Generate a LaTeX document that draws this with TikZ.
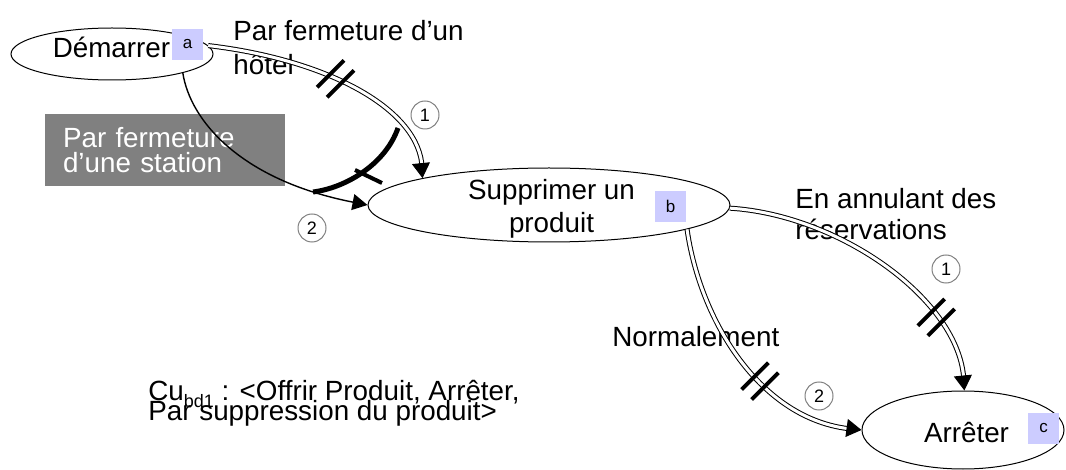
\documentclass[tikz,border=0pt]{standalone}
\usepackage{fontspec}
\setmainfont{Liberation Sans}
\usepackage{xcolor}
\usetikzlibrary{shapes.geometric,arrows.meta}
\definecolor{tagfill}{HTML}{CCCCFF}
\definecolor{boxgray}{HTML}{808080}

% two short bars across a flow, always at 45 degrees
\newcommand{\hatchmark}[1]{%
    \draw[bar] ([shift={(-9.2pt,-4.2pt)}]#1) -- ([shift={(4.2pt,9.2pt)}]#1)
               ([shift={(-4.2pt,-9.2pt)}]#1) -- ([shift={(9.2pt,4.2pt)}]#1);}

\begin{document}
\begin{tikzpicture}[
        x=0.5pt, y=-0.5pt,
        task/.style={
            draw,
            ellipse,
            line width=0.5pt,
            inner sep=0pt
        },
        tag/.style={
            fill=tagfill,
            minimum size=15.5pt,
            inner sep=0pt,
            font=\fontsize{8.5}{10}\selectfont
        },
        txt/.style={
            inner sep=0pt,
            align=left,
            font=\fontsize{13.9}{16.5}\selectfont
        },
        num/.style={
            draw=boxgray,
            circle,
            minimum size=14pt,
            inner sep=0pt,
            line width=0.5pt,
            font=\fontsize{9}{10}\selectfont
        },
        seq/.style={
            draw,
            line width=0.5pt,
            double,
            double distance=1.5pt,
            shorten >=5pt
        },
        tip/.style={
            draw,
            line width=0.5pt,
            -{Triangle[length=7.5pt,width=9pt]}
        },
        alt/.style={
            draw,
            line width=0.7pt,
            -{Triangle[length=7.5pt,width=8pt]}
        },
        bar/.style={line width=2pt}
    ]

    \useasboundingbox (0,0) rectangle (1066,470);

    % tasks
    \node[task, minimum width=101pt, minimum height=26pt] (dem) at (112,54) {};
    \node[txt, anchor=base] (demT) at (111.5,58) {Démarrer};
    \node[tag] (tagA) at (187.5,44.5) {a};

    \node[task, minimum width=181pt, minimum height=37pt] (sup) at (549,205) {};
    \node[txt, anchor=north, align=center] (supT) at (551.5,179) {Supprimer un\\produit};
    \node[tag] (tagB) at (670.5,206.5) {b};

    \node[task, minimum width=101pt, minimum height=39pt] (arr) at (963,430) {};
    \node[txt, anchor=base] (arrT) at (966.5,443) {Arrêter};
    \node[tag] (tagC) at (1043.5,428) {c};

    % labels
    \node[txt, anchor=north west, font=\fontsize{13.9}{17}\selectfont] (lHotel) at (233,20) {Par fermeture d’un\\hôtel};
    \node[txt, fill=boxgray, text=white, text width=102pt, inner xsep=9pt, minimum height=36pt,
          font=\fontsize{13.9}{12.5}\selectfont] (lStation) at (165,150) {Par fermeture\\d’une station};
    \node[txt, anchor=north west, font=\fontsize{13.9}{15.5}\selectfont] (lAnnul) at (795,188) {En annulant des\\réservations};
    \node[txt, anchor=base west] (lNormal) at (612,347) {Normalement};
    \node[txt, anchor=north west, font={\fontsize{13.9}{10}\selectfont\lineskiplimit=-20pt}] (lCu) at (148,380)
        {Cu\raisebox{-3.5pt}{\fontsize{9}{9}\selectfont bd1} : <Offrir Produit, Arrêter,\\Par suppression du produit>};

    \node[num] (n1a) at (425,115) {1};
    \node[num] (n2a) at (312,228) {2};
    \node[num] (n1b) at (946,269) {1};
    \node[num] (n2b) at (819,396) {2};

    % flows
    \draw[seq] (dem.5) .. controls (330,60) and (420,110) .. (sup.168)
        coordinate[pos=.4] (hA) coordinate[pos=.95] (tA);
    \draw[tip] (tA) -- (sup.168);
    \draw[alt] (dem.-15) .. controls (190,120) and (240,180) .. (sup.west);
    \draw[seq] (sup.-1) .. controls (840,215) and (960,300) .. (arr.88)
        coordinate[pos=.72] (hB) coordinate[pos=.96] (tB);
    \draw[tip] (tB) -- (arr.88);
    \draw[seq] (sup.-10) .. controls (700,320) and (760,420) .. (arr.west)
        coordinate[pos=.6] (hC) coordinate[pos=.96] (tC);
    \draw[tip] (tC) -- (arr.west);

    \hatchmark{hA}
    \hatchmark{hB}
    \hatchmark{hC}

    % exclusive choice between the two starts
    \draw[line width=2.5pt] (313,192) .. controls (345,188) and (385,165) .. (398,128);
    \draw[bar] (355,170) -- (382,183);

\end{tikzpicture}
\end{document}
